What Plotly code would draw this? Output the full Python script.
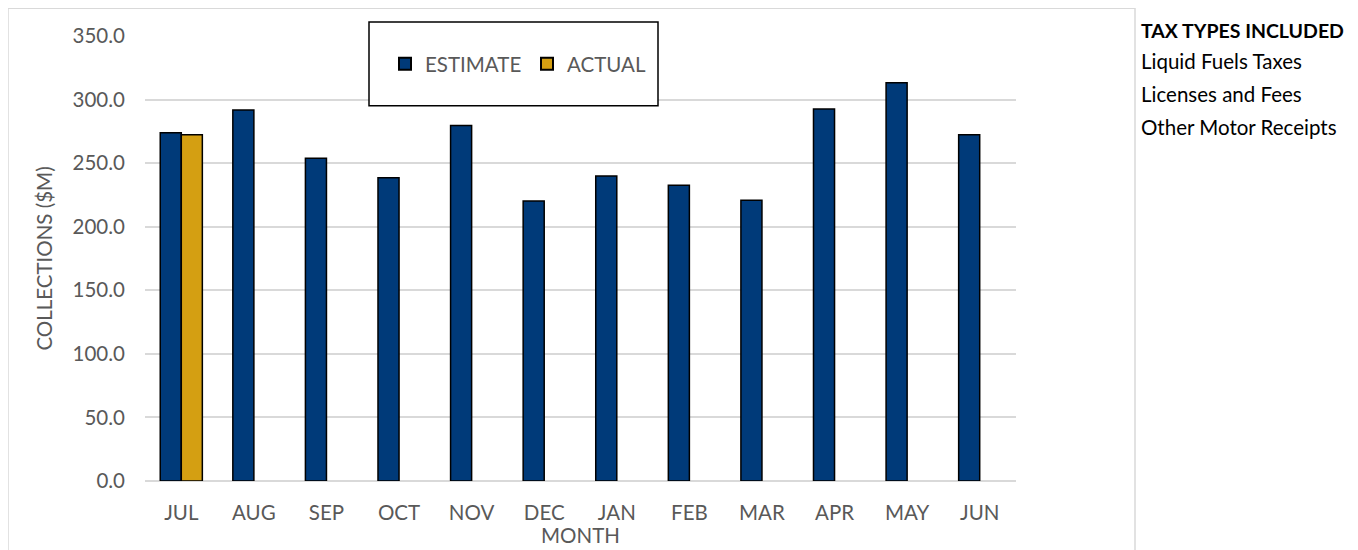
import plotly.graph_objects as go

months = ["JUL", "AUG", "SEP", "OCT", "NOV", "DEC", "JAN", "FEB", "MAR", "APR", "MAY", "JUN"]
estimate = [274.0, 291.8, 253.8, 238.5, 279.6, 220.3, 239.9, 232.6, 220.8, 292.6, 313.3, 272.4]
actual = [272.4, None, None, None, None, None, None, None, None, None, None, None]
tax_types_title = "TAX TYPES INCLUDED"
tax_types = ["Liquid Fuels Taxes", "Licenses and Fees", "Other Motor Receipts"]

FONT = "Lato"
GREY = "#595959"
FS = 20.5

fig = go.Figure()
fig.add_trace(go.Bar(x=months, y=estimate, name="ESTIMATE",
                     marker=dict(color="#003A79", line=dict(color="black", width=1.5))))
fig.add_trace(go.Bar(x=months, y=actual, name="ACTUAL",
                     marker=dict(color="#D49F12", line=dict(color="black", width=1.5))))

OFF = 8  # page body margin
L, R, T, B = 145, 1016, 36, 483
W, H = R - L, B - T
def px(p): return (p - L) / W
def py(p): return (B - p) / H

fig.update_layout(
    width=1358 - OFF, height=550 - OFF,
    margin=dict(l=L - OFF, r=1358 - R, t=T - OFF, b=550 - B),
    barmode="group", bargap=0.42, bargroupgap=0.0,
    plot_bgcolor="white", paper_bgcolor="white",
    font=dict(family=FONT, color=GREY, size=FS),
    legend=dict(orientation="h", x=px(527), y=py(64), xanchor="center", yanchor="middle",
                bgcolor="rgba(0,0,0,0)", font=dict(size=FS, color=GREY),
                itemsizing="constant", traceorder="normal", entrywidth=97),
    showlegend=True,
)
fig.update_yaxes(range=[0, 350], dtick=50, tickformat=".1f", showgrid=True,
                 gridcolor="#d9d9d9", gridwidth=1.5, zeroline=True, zerolinecolor="#d9d9d9",
                 zerolinewidth=1.5, showline=False, ticks="", ticklabelstandoff=19,
                 tickfont=dict(size=FS, color=GREY),
                 title=dict(text="COLLECTIONS ($M)", font=dict(size=FS, color=GREY), standoff=14))
fig.update_xaxes(showline=False, ticks="", ticklabelstandoff=17,
                 tickfont=dict(size=FS, color=GREY),
                 title=dict(text="MONTH", font=dict(size=FS, color=GREY), standoff=0))

# outer chart border
fig.add_shape(type="rect", xref="paper", yref="paper",
              x0=px(8), x1=px(1135), y0=py(570), y1=py(8),
              line=dict(color="#d9d9d9", width=1.5), layer="below")
# legend box
fig.add_shape(type="rect", xref="paper", yref="paper",
              x0=px(369), x1=px(658), y0=py(106), y1=py(22),
              line=dict(color="black", width=1.5), fillcolor="white", layer="above")

fig.add_annotation(xref="paper", yref="paper", x=px(1139), y=py(30), xanchor="left",
                   yanchor="middle", text="<b>" + tax_types_title + "</b>", showarrow=False,
                   font=dict(family=FONT, size=19.5, color="black"))
for i, t in enumerate(tax_types):
    fig.add_annotation(xref="paper", yref="paper", x=px(1139), y=py(61 + 33 * i),
                       xanchor="left", yanchor="middle", text=t, showarrow=False,
                       font=dict(family=FONT, size=FS, color="black"))

fig.write_html("out.html")
